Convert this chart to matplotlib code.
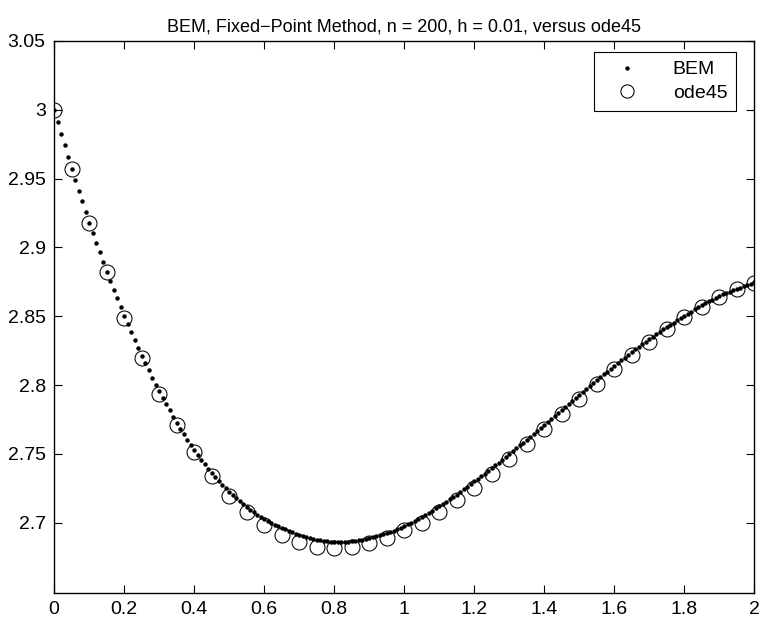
import numpy as np
import matplotlib
matplotlib.use("Agg")
import matplotlib.pyplot as plt

plt.rcParams['font.family'] = ['Liberation Sans', 'DejaVu Sans']

# BEM solution, h = 0.01, t from 0 to 2 (201 points)
bem_t = np.linspace(0.0, 2.0, 201)
bem_y = [
    3.0000, 2.9915, 2.9828, 2.9743, 2.9658, 2.9571,
    2.9491, 2.9413, 2.9336, 2.9258, 2.9180,
    2.9107, 2.9034, 2.8964, 2.8894, 2.8823,
    2.8758, 2.8692, 2.8630, 2.8567, 2.8503,
    2.8445, 2.8384, 2.8326, 2.8268, 2.8215,
    2.8161, 2.8108, 2.8055, 2.8004, 2.7955,
    2.7906, 2.7860, 2.7817, 2.7771, 2.7724,
    2.7683, 2.7642, 2.7603, 2.7564, 2.7530,
    2.7491, 2.7458, 2.7424, 2.7389, 2.7360,
    2.7332, 2.7305, 2.7278, 2.7252, 2.7227,
    2.7203, 2.7180, 2.7157, 2.7135, 2.7113,
    2.7094, 2.7076, 2.7058, 2.7041, 2.7024,
    2.7010, 2.6997, 2.6985, 2.6974, 2.6963,
    2.6952, 2.6941, 2.6931, 2.6920, 2.6910,
    2.6903, 2.6896, 2.6890, 2.6884, 2.6878,
    2.6874, 2.6870, 2.6867, 2.6864, 2.6862,
    2.6861, 2.6861, 2.6862, 2.6864, 2.6866,
    2.6869, 2.6873, 2.6877, 2.6882, 2.6887,
    2.6894, 2.6901, 2.6909, 2.6917, 2.6925,
    2.6934, 2.6944, 2.6954, 2.6964, 2.6975,
    2.6988, 2.7001, 2.7015, 2.7030, 2.7045,
    2.7059, 2.7074, 2.7089, 2.7104, 2.7120,
    2.7137, 2.7154, 2.7171, 2.7188, 2.7205,
    2.7224, 2.7243, 2.7262, 2.7281, 2.7300,
    2.7319, 2.7338, 2.7358, 2.7378, 2.7397,
    2.7418, 2.7438, 2.7459, 2.7479, 2.7500,
    2.7521, 2.7541, 2.7562, 2.7582, 2.7603,
    2.7625, 2.7647, 2.7668, 2.7690, 2.7712,
    2.7734, 2.7756, 2.7777, 2.7799, 2.7821,
    2.7843, 2.7865, 2.7887, 2.7908, 2.7930,
    2.7951, 2.7972, 2.7994, 2.8015, 2.8036,
    2.8057, 2.8078, 2.8098, 2.8119, 2.8140,
    2.8160, 2.8180, 2.8200, 2.8220, 2.8240,
    2.8259, 2.8278, 2.8297, 2.8315, 2.8334,
    2.8352, 2.8370, 2.8387, 2.8405, 2.8422,
    2.8439, 2.8455, 2.8471, 2.8487, 2.8503,
    2.8519, 2.8534, 2.8550, 2.8565, 2.8580,
    2.8594, 2.8608, 2.8622, 2.8636, 2.8649,
    2.8660, 2.8670, 2.8680, 2.8690, 2.8700,
    2.8709, 2.8718, 2.8728, 2.8737, 2.8746,
]

# ode45 solution at 0.05 spacing
ode_t = np.linspace(0.0, 2.0, 41)
ode_y = [
    3.0000, 2.9571, 2.9175, 2.8819, 2.8488, 2.8200, 2.7938, 2.7712,
    2.7513, 2.7343, 2.7198, 2.7081, 2.6984, 2.6912, 2.6858, 2.6826,
    2.6817, 2.6826, 2.6850, 2.6889, 2.6947, 2.7002, 2.7077, 2.7162,
    2.7256, 2.7356, 2.7463, 2.7572, 2.7681, 2.7790, 2.7899, 2.8010,
    2.8117, 2.8220, 2.8317, 2.8409, 2.8494, 2.8571, 2.8637, 2.8695,
    2.8741,
]

xticks = [0, 0.2, 0.4, 0.6, 0.8, 1, 1.2, 1.4, 1.6, 1.8, 2]
xticklabels = ['0', '0.2', '0.4', '0.6', '0.8', '1', '1.2', '1.4', '1.6', '1.8', '2']
yticks = [2.7, 2.75, 2.8, 2.85, 2.9, 2.95, 3.0, 3.05]
yticklabels = ['2.7', '2.75', '2.8', '2.85', '2.9', '2.95', '3', '3.05']

fig = plt.figure(figsize=(7.62, 6.24), dpi=100)
ax = fig.add_axes([54/762, 1-593/624, 700/762, 552/624])

ax.plot(bem_t, bem_y, linestyle='none', marker='o', markersize=3.2,
        color='black', markeredgewidth=0, label='BEM')
ax.plot(ode_t, ode_y, linestyle='none', marker='o', markersize=10.8,
        markerfacecolor='none', markeredgecolor='black', markeredgewidth=0.75,
        label='ode45')

ax.set_xlim(0, 2)
ax.set_ylim(2.649, 3.05)
ax.set_xticks(xticks)
ax.set_xticklabels(xticklabels)
ax.set_yticks(yticks)
ax.set_yticklabels(yticklabels)
ax.tick_params(direction='in', length=6, width=0.8, top=True, right=True,
               labelsize=14, pad=6)
for s in ax.spines.values():
    s.set_linewidth(1.0)

ax.set_title('BEM, Fixed\u2212Point Method, n = 200, h = 0.01, versus ode45',
             fontsize=13, pad=7)

leg = ax.legend(loc='upper right', bbox_to_anchor=(736/762, 1-52/624),
                bbox_transform=fig.transFigure,
                fontsize=14, frameon=True, fancybox=False,
                edgecolor='black', framealpha=1, borderpad=0.45,
                handlelength=2.5, handletextpad=1.1, labelspacing=0.3,
                borderaxespad=0.0, markerscale=1.0)
leg.get_frame().set_linewidth(0.8)
leg.legend_handles[0].set_markersize(3.2)
leg.legend_handles[1].set_markersize(9.5)

fig.savefig('out.png', dpi=100)
